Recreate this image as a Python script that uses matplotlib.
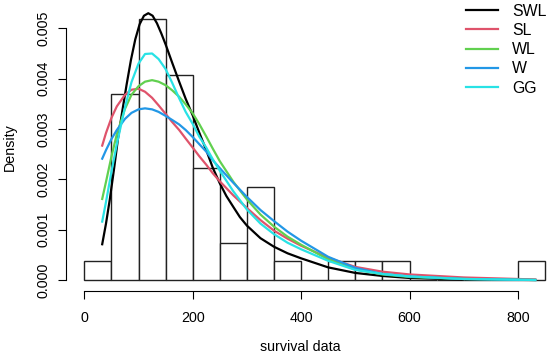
import numpy as np
import matplotlib
matplotlib.use("Agg")
from matplotlib import pyplot as plt

plt.rcParams['font.family'] = ['Liberation Sans', 'DejaVu Sans']

# histogram of the survival data (bins of width 50)
bin_edges = [0, 50, 100, 150, 200, 250, 300, 350, 400, 450, 500, 550, 600,
             650, 700, 750, 800, 850]
counts = [1, 10, 14, 11, 6, 2, 5, 1, 0, 1, 1, 1, 0, 0, 0, 0, 1]

# fitted densities
swl_x = [33, 40, 47, 55, 62, 70, 78, 86, 94, 102, 110, 118, 126, 134, 142,
         150, 162, 175, 187, 200, 212, 225, 237, 250, 262, 275, 287, 300,
         325, 350, 375, 400, 450, 500, 550, 600, 700, 832]
swl = [0.00071, 0.00112, 0.00160, 0.00222, 0.00280, 0.00335, 0.00388,
       0.00437, 0.00478, 0.00508, 0.00525, 0.00530, 0.00525, 0.00510,
       0.00490, 0.00468, 0.00432, 0.00394, 0.00360, 0.00327, 0.00293,
       0.00258, 0.00223, 0.00192, 0.00167, 0.00145, 0.00125, 0.00108,
       0.00083, 0.00066, 0.00053, 0.00043, 0.00025, 0.00014, 0.00008,
       0.00004, 0.00001, 0.0]

x_fit = [33, 40, 50, 60, 75, 87, 100, 112, 125, 137, 150, 162, 175, 187, 200,
         212, 225, 237, 250, 275, 300, 325, 350, 375, 400, 450, 500, 550, 600,
         700, 832]
sl = [0.00267, 0.00292, 0.00322, 0.00345, 0.00368, 0.00378, 0.00380,
      0.00374, 0.00362, 0.00347, 0.00330, 0.00314, 0.00298, 0.00281,
      0.00263, 0.00246, 0.00229, 0.00212, 0.00196, 0.00168, 0.00143,
      0.00119, 0.00098, 0.00082, 0.00068, 0.00044, 0.00026, 0.000165,
      0.00011, 0.00005, 0.00001]
wl = [0.00161, 0.00195, 0.00245, 0.00290, 0.00340, 0.00368, 0.00385,
      0.00394, 0.00397, 0.00394, 0.00387, 0.00377, 0.00364, 0.00349,
      0.00331, 0.00310, 0.00285, 0.00261, 0.00236, 0.00195, 0.00160,
      0.00130, 0.00106, 0.00086, 0.00070, 0.00041, 0.00021, 0.00011,
      0.00006, 0.00002, 0.0]
w = [0.00241, 0.00258, 0.00280, 0.00298, 0.00320, 0.00332, 0.00339,
     0.00341, 0.00339, 0.00334, 0.00326, 0.00318, 0.00309, 0.00298,
     0.00284, 0.00270, 0.00255, 0.00238, 0.00222, 0.00193, 0.00165,
     0.00139, 0.00117, 0.00096, 0.00078, 0.00046, 0.00024, 0.00012,
     0.00007, 0.00002, 0.0]
gg = [0.00116, 0.00155, 0.00215, 0.00270, 0.00343, 0.00393, 0.00430,
      0.00449, 0.00450, 0.00439, 0.00419, 0.00392, 0.00361, 0.00334,
      0.00310, 0.00285, 0.00263, 0.00240, 0.00217, 0.00176, 0.00140,
      0.00112, 0.00091, 0.00074, 0.00061, 0.00038, 0.00020, 0.00012,
      0.00007, 0.00002, 0.0]

labels = ["SWL", "SL", "WL", "W", "GG"]
colors = ["#000000", "#DF536B", "#61D04F", "#2297E6", "#28E2E5"]

W, H = 550, 361
fig = plt.figure(figsize=(W / 100, H / 100), dpi=100)
ax = fig.add_axes([66 / W, (H - 291) / H, 484 / W, 289 / H])

edges = np.array(bin_edges, dtype=float)
cnt = np.array(counts, dtype=float)
width = np.diff(edges)
dens = cnt / (cnt.sum() * width)
ax.bar(edges[:-1], dens, width=width, align='edge', facecolor='white',
       edgecolor='#222222', linewidth=1.0, zorder=1)

curves = [(swl_x, swl), (x_fit, sl), (x_fit, wl), (x_fit, w), (x_fit, gg)]
for (xs, ys), c, lab in zip(curves, colors, labels):
    ax.plot(xs, ys, color=c, lw=1.6, label=lab, zorder=2,
            solid_joinstyle='round')

ax.set_xlim(-33.8, 859.2)
ax.set_ylim(-0.000219, 0.005523)

for s in ['top', 'right']:
    ax.spines[s].set_visible(False)
ax.spines['left'].set_bounds(0, 0.005)
ax.spines['bottom'].set_bounds(0, 800)
ax.set_xticks([0, 200, 400, 600, 800])
ax.set_yticks([0, 0.001, 0.002, 0.003, 0.004, 0.005])
ax.set_yticklabels(["0.000", "0.001", "0.002", "0.003", "0.004", "0.005"])
ax.tick_params(axis='x', length=5.5, pad=9, labelsize=10.3)
ax.tick_params(axis='y', length=5.5, pad=6, labelsize=10.3, labelrotation=90)
for t in ax.get_yticklabels():
    t.set_va('center')

fig.text(300 / W, 1 - 347 / H, "survival data", fontsize=10.3,
         ha='center', va='center')
fig.text(10 / W, 1 - 147 / H, "Density", fontsize=10.3, rotation=90,
         ha='center', va='center')

ax.legend(loc='upper left', bbox_to_anchor=(466 / W, (H - 3.5) / H),
          bbox_transform=fig.transFigure, frameon=False, fontsize=11.4,
          handlelength=2.0, handletextpad=0.9, labelspacing=0.27,
          borderpad=0, borderaxespad=0)

fig.savefig("out.png", dpi=100)
